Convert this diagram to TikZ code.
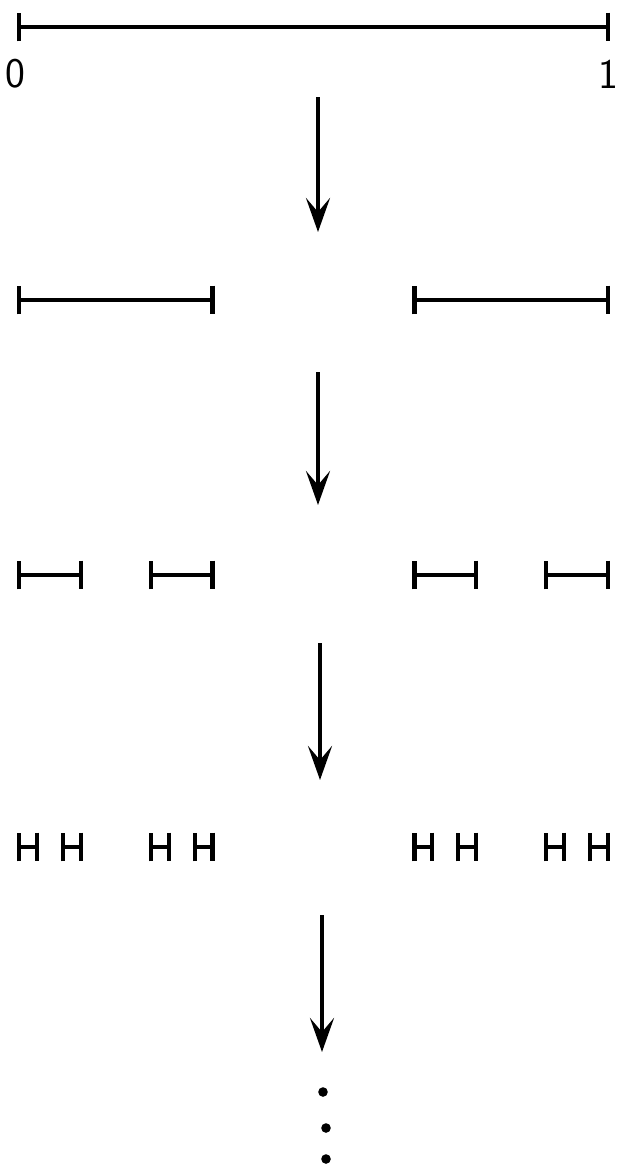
\documentclass[tikz,border=0pt]{standalone}
\usetikzlibrary{arrows.meta}
\tikzstyle{seg} = [line width=3.4pt, {Bar[width=0.72cm, line width=3pt]}-{Bar[width=0.72cm, line width=3pt]}]
\tikzstyle{arrow} = [line width=2.8pt, -{Stealth[length=0.85cm, width=0.6cm, inset=0.35cm]}]
\tikzstyle{lab} = [font=\sffamily\fontsize{30}{30}\selectfont, inner sep=0]

\begin{document}
\begin{tikzpicture}[x=0.025cm, y=-0.025cm]
	\useasboundingbox (0,0) rectangle (620,1165);
	% stage 0
	\draw[seg] (17,27) -- (610,27);
	\node[lab] (zero) at (15,74) {0};
	\node[lab] (one) at (608,74) {1};
	% stages 1 to 3, left ends in 27ths
	\foreach \k in {0,18} \draw[seg] ({17+21.963*\k},300) -- ({17+21.963*(\k+9)},300);
	\foreach \k in {0,6,18,24} \draw[seg] ({17+21.963*\k},575) -- ({17+21.963*(\k+3)},575);
	\foreach \k in {0,2,6,8,18,20,24,26} \draw[seg] ({17+21.963*\k},847) -- ({17+21.963*(\k+1)},847);
	% arrows between stages
	\foreach \i/\xa/\ya/\yb in {1/318/97/232, 2/318/372/505, 3/320/643/780, 4/322/915/1052} {
		\coordinate (top\i) at (\xa,\ya);
		\coordinate (tip\i) at (\xa,\yb);
		\draw[arrow] (top\i) -- (tip\i);
	}
	% dots
	\foreach \xd/\yd in {323/1092, 326/1128, 326/1159} \fill (\xd,\yd) circle[radius=0.12cm];
\end{tikzpicture}
\end{document}
